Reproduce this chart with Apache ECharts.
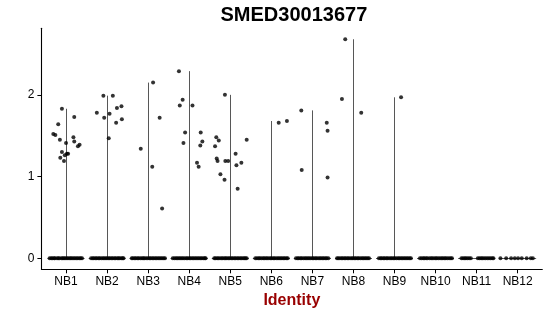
<!DOCTYPE html>
<html>
<head>
<meta charset="utf-8">
<script src="https://cdn.jsdelivr.net/npm/echarts@6/dist/echarts.min.js"></script>
<style>
html,body{margin:0;padding:0;background:#fff;}
#chart{width:550px;height:316px;}
</style>
</head>
<body>
<div id="chart"></div>
<script>
// ---- data ----
const titleText = 'SMED30013677';
const xAxisTitle = 'Identity';
const categories = ['NB1','NB2','NB3','NB4','NB5','NB6','NB7','NB8','NB9','NB10','NB11','NB12'];
const yTicks = [0, 1, 2];

// expressing cells: [jitter offset, expression value]
const nb1 = [[-0.10,1.83],[0.20,1.73],[-0.19,1.64],[-0.31,1.52],[-0.26,1.51],[-0.15,1.45],[0.18,1.48],[0.20,1.43],[0.00,1.41],[0.33,1.39],[0.29,1.37],[-0.10,1.30],[0.02,1.28],[-0.03,1.26],[0.05,1.28],[-0.14,1.23],[-0.05,1.19]];
const nb2 = [[-0.09,1.99],[0.14,1.99],[-0.25,1.78],[-0.07,1.72],[0.06,1.77],[0.24,1.84],[0.35,1.86],[0.22,1.66],[0.36,1.70],[0.04,1.47]];
const nb3 = [[0.12,2.15],[0.28,1.72],[-0.18,1.34],[0.10,1.12],[0.34,0.61]];
const nb4 = [[-0.25,2.29],[-0.16,1.94],[-0.23,1.87],[0.08,1.87],[-0.10,1.54],[-0.14,1.41],[0.28,1.54],[0.32,1.43],[0.27,1.38],[0.19,1.17],[0.23,1.12]];
const nb5 = [[-0.13,2.00],[-0.34,1.48],[-0.28,1.44],[-0.37,1.37],[0.40,1.45],[0.13,1.28],[-0.33,1.22],[-0.31,1.19],[-0.12,1.19],[-0.05,1.19],[0.15,1.14],[0.27,1.17],[-0.24,1.03],[-0.14,0.96],[0.18,0.85]];
const nb6 = [[0.18,1.66],[0.38,1.68]];
const nb7 = [[-0.27,1.81],[0.35,1.66],[0.37,1.56],[-0.26,1.08],[0.37,0.99]];
const nb8 = [[-0.20,2.68],[-0.28,1.95],[0.19,1.78]];
const nb9 = [[0.16,1.97]];
const nb10 = [];
const nb11 = [];
const nb12 = [];
const expressing = [nb1,nb2,nb3,nb4,nb5,nb6,nb7,nb8,nb9,nb10,nb11,nb12];

// jitter offsets of the non-expressing cells (value 0)
const z1 = [-0.40,-0.36,-0.33,-0.29,-0.27,-0.22,-0.19,-0.16,-0.11,-0.08,-0.05,-0.02,0.02,0.05,0.09,0.12,0.15,0.19,0.22,0.26,0.29,0.33,0.36,0.39];
const z2 = [-0.39,-0.35,-0.32,-0.28,-0.25,-0.21,-0.18,-0.14,-0.10,-0.07,-0.03,0.00,0.04,0.07,0.11,0.14,0.18,0.21,0.25,0.28,0.31,0.35,0.38,0.40];
const z3 = [-0.40,-0.37,-0.33,-0.30,-0.26,-0.23,-0.19,-0.15,-0.12,-0.09,-0.05,-0.01,0.03,0.06,0.10,0.13,0.17,0.20,0.24,0.27,0.31,0.34,0.38,0.41];
const z4 = [-0.40,-0.36,-0.32,-0.29,-0.25,-0.22,-0.18,-0.15,-0.11,-0.07,-0.04,0.00,0.03,0.07,0.10,0.14,0.17,0.21,0.24,0.28,0.31,0.35,0.38,0.40];
const z5 = [-0.39,-0.36,-0.32,-0.29,-0.25,-0.21,-0.18,-0.14,-0.11,-0.08,-0.04,-0.01,0.03,0.06,0.10,0.13,0.17,0.20,0.24,0.27,0.31,0.34,0.37,0.40];
const z6 = [-0.39,-0.35,-0.31,-0.28,-0.24,-0.20,-0.17,-0.13,-0.10,-0.06,-0.02,0.01,0.05,0.08,0.12,0.16,0.19,0.23,0.26,0.30,0.33,0.37,0.40];
const z7 = [-0.40,-0.36,-0.33,-0.29,-0.26,-0.22,-0.18,-0.15,-0.11,-0.08,-0.04,0.00,0.03,0.07,0.10,0.14,0.18,0.21,0.25,0.28,0.32,0.35,0.39];
const z8 = [-0.40,-0.37,-0.33,-0.29,-0.26,-0.22,-0.19,-0.15,-0.12,-0.08,-0.04,-0.01,0.03,0.06,0.10,0.13,0.17,0.21,0.24,0.28,0.31,0.35,0.38];
const z9 = [-0.38,-0.34,-0.31,-0.27,-0.24,-0.20,-0.17,-0.13,-0.09,-0.06,-0.02,0.01,0.05,0.09,0.12,0.16,0.19,0.23,0.26,0.30,0.33,0.37,0.40];
const z10 = [-0.38,-0.34,-0.30,-0.27,-0.23,-0.20,-0.15,-0.11,-0.08,-0.04,0.00,0.03,0.07,0.11,0.15,0.18,0.22,0.25,0.29,0.33,0.37,0.40];
const z11 = [-0.37,-0.33,-0.29,-0.26,-0.22,-0.18,-0.14,0.03,0.07,0.11,0.14,0.18,0.22,0.26,0.30,0.34,0.38,0.41];
const z12 = [-0.42,-0.28,-0.16,-0.07,0.01,0.10,0.22,0.32,0.37];
const zeroJitter = [z1,z2,z3,z4,z5,z6,z7,z8,z9,z10,z11,z12];

// ---- build ----
const violinHalfWidth = 0.45;
const points = [];
const segments = [];
categories.forEach((c, i) => {
  const center = i + 1;
  zeroJitter[i].forEach(off => points.push([center + off, 0]));
  expressing[i].forEach(p => points.push([center + p[0], p[1]]));
  const maxV = expressing[i].reduce((m, p) => Math.max(m, p[1]), 0);
  segments.push({coords: [[center - violinHalfWidth, 0], [center + violinHalfWidth, 0]]});
  if (maxV > 0) segments.push({coords: [[center, 0], [center, maxV]]});
});
const allVals = expressing.flat().map(p => p[1]).concat([0]);
const dMax = Math.max.apply(null, allVals);
const dMin = 0;
const pad = (dMax - dMin) * 0.05;

const font = "'Liberation Sans', Arial, Helvetica, sans-serif";
const chart = echarts.init(document.getElementById('chart'), null, {renderer: 'canvas'});
chart.setOption({
  animation: false,
  backgroundColor: '#ffffff',
  grid: {left: 41.4, right: 7.7, top: 28.3, bottom: 46.7, containLabel: false},
  graphic: [{
    type: 'text', left: 292.5 - 72, top: 5.5,
    style: {text: titleText, font: "bold 20px " + font, fill: '#000000'}
  }],
  xAxis: {
    type: 'value', min: 0.4, max: 12.6,
    name: xAxisTitle, nameLocation: 'middle', nameGap: 20,
    nameTextStyle: {fontFamily: font, fontSize: 16, fontWeight: 'bold', color: '#990000'},
    axisLine: {show: true, onZero: false, lineStyle: {color: '#000000', width: 1.1}},
    axisTick: {show: true, length: 4, customValues: categories.map((c, i) => i + 1), lineStyle: {color: '#000000', width: 1}},
    axisLabel: {
      customValues: categories.map((c, i) => i + 1),
      formatter: v => categories[Math.round(v) - 1] || '',
      margin: 6, fontFamily: font, fontSize: 12, color: '#000000'
    },
    splitLine: {show: false}
  },
  yAxis: {
    type: 'value', min: dMin - pad, max: dMax + pad,
    axisLine: {show: true, onZero: false, lineStyle: {color: '#000000', width: 1.1}},
    axisTick: {show: true, length: 4, customValues: yTicks, lineStyle: {color: '#000000', width: 1}},
    axisLabel: {customValues: yTicks, margin: 7, fontFamily: font, fontSize: 12, color: '#000000'},
    splitLine: {show: false}
  },
  series: [
    {
      type: 'lines', coordinateSystem: 'cartesian2d', data: segments, z: 1,
      lineStyle: {color: '#444444', width: 0.9, opacity: 1}, silent: true
    },
    {
      type: 'scatter', data: points, symbol: 'circle', symbolSize: 4, z: 2,
      itemStyle: {color: '#000000'}, silent: true
    }
  ]
});
</script>
</body>
</html>
